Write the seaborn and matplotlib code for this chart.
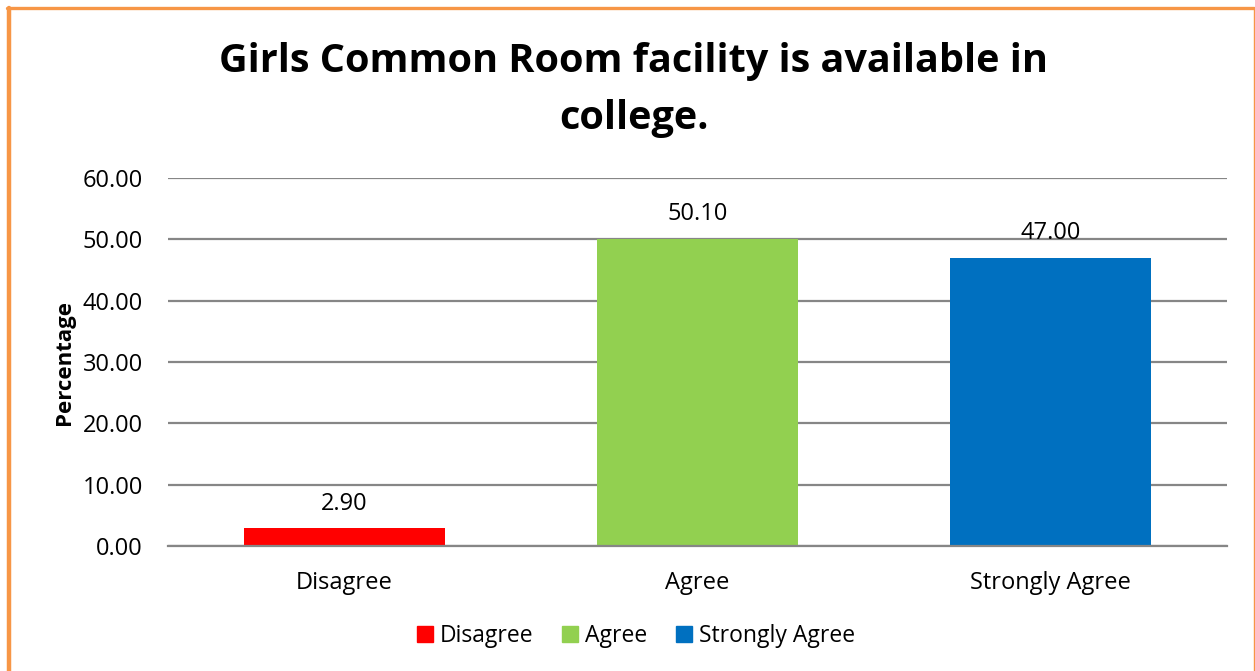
import matplotlib
matplotlib.use("Agg")
import matplotlib.pyplot as plt
import matplotlib.patches as mpatches
from matplotlib.lines import Line2D
import pandas as pd
import seaborn as sns

# data
categories = ["Disagree", "Agree", "Strongly Agree"]
values = [2.90, 50.10, 47.00]
colors = ["#FF0000", "#92D050", "#0070C0"]
yticks = [0, 10, 20, 30, 40, 50, 60]

df = pd.DataFrame({"cat": categories, "pct": values})

sns.set_theme(style="white")
plt.rcParams["font.family"] = ["Open Sans", "DejaVu Sans"]
plt.rcParams["text.color"] = "black"
plt.rcParams["xtick.color"] = "black"
plt.rcParams["ytick.color"] = "black"
plt.rcParams["axes.labelcolor"] = "black"

fig = plt.figure(figsize=(12.55, 6.71), dpi=100)
ax = fig.add_axes([0.1339, 0.1863, 0.8438, 0.5484])

sns.barplot(data=df, x="cat", y="pct", hue="cat", palette=colors,
            order=categories, hue_order=categories, dodge=False,
            width=0.57, legend=False, ax=ax, saturation=1, linewidth=0)

ax.set_ylim(0, 60)
ax.set_yticks(yticks)
ax.set_yticklabels([f"{t:.2f}" for t in yticks], fontsize=17)
ax.tick_params(axis="x", labelsize=17, length=0, pad=18)
ax.tick_params(axis="y", length=0, pad=18)
ax.yaxis.grid(True, color="#868686", lw=1.6)
ax.set_axisbelow(True)
for s in ["left", "right", "top"]:
    ax.spines[s].set_visible(False)
ax.spines["bottom"].set_color("#868686")
ax.spines["bottom"].set_linewidth(1.6)
ax.set_xlabel("")
ax.set_ylabel("Percentage", fontsize=16, fontweight="bold", labelpad=0)
ax.yaxis.set_label_coords(-0.088, 0.5)

for cont in ax.containers:
    ax.bar_label(cont, fmt="%.2f", padding=9, fontsize=17)

fig.text(0.505, 1 - 90 / 671,
         "Girls Common Room facility is available in\ncollege.",
         fontsize=28.5, fontweight="bold", ha="center", va="center",
         multialignment="center", linespacing=1.57)

handles = [mpatches.Patch(color=c, label=l) for c, l in zip(colors, categories)]
fig.legend(handles=handles, loc="center", bbox_to_anchor=(0.507, 0.052),
           ncol=3, frameon=False, fontsize=16.5, handlelength=0.7,
           handleheight=0.7, handletextpad=0.3, columnspacing=1.25)

# orange frame
orange = "#F79646"
fig.add_artist(Line2D([9 / 1255, 9 / 1255], [0, 1 - 8 / 671], color=orange,
                      lw=3.2, transform=fig.transFigure))
fig.add_artist(Line2D([7 / 1255, 1254 / 1255], [1 - 8 / 671, 1 - 8 / 671],
                      color=orange, lw=2.4, transform=fig.transFigure))
fig.add_artist(Line2D([1254 / 1255, 1254 / 1255], [0, 1 - 8 / 671],
                      color=orange, lw=1.0, transform=fig.transFigure))

fig.savefig("out.png", dpi=100)
